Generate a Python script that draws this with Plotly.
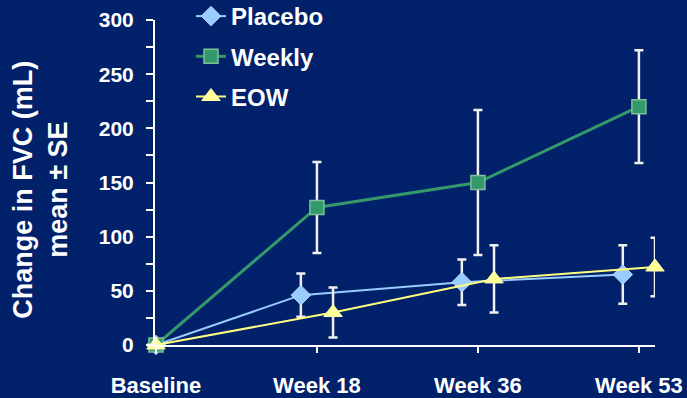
import plotly.graph_objects as go

# Visit labels and change in FVC (mL), mean and standard error per arm
visits = ["Baseline", "Week 18", "Week 36", "Week 53"]

placebo_mean = [0, 46, 58, 65]
placebo_se = [0, 20, 21, 27]

weekly_mean = [0, 127, 150, 220]
weekly_se = [0, 42, 67, 52]

eow_mean = [0, 30, 61, 72]
eow_se = [0, 23, 31, 27]

BG = "#02216B"
FONT = "Liberation Sans, Arial, sans-serif"
ERR = dict(type="data", visible=True, color="#F0F0F0", thickness=2.5, width=4.5)


def positions(shift):
    # Side-by-side placement of the arms at each follow-up visit; baseline shared
    return [i + (shift if i > 0 else 0) for i in range(len(visits))]


fig = go.Figure()

fig.add_trace(go.Scatter(
    x=positions(-0.1), y=placebo_mean, name="Placebo", legendgroup="p",
    mode="lines+markers",
    line=dict(color="#99CCFF", width=2),
    marker=dict(symbol="diamond", size=15, color="#99CCFF",
                line=dict(color="#B8DCFF", width=1)),
    error_y=dict(array=placebo_se, **ERR),
    cliponaxis=False,
))
fig.add_trace(go.Scatter(
    x=positions(0.0), y=weekly_mean, name="Weekly", legendgroup="w",
    mode="lines+markers",
    line=dict(color="#33996A", width=3),
    marker=dict(symbol="square", size=14, color="#33996A",
                line=dict(color="#7FBF9A", width=1.5)),
    error_y=dict(array=weekly_se, **ERR),
    cliponaxis=False,
))
fig.add_trace(go.Scatter(
    x=positions(0.1), y=eow_mean, name="EOW", legendgroup="e",
    mode="lines+markers",
    line=dict(color="#FFFF80", width=2),
    marker=dict(symbol="triangle-up", size=16, color="#FFFF99",
                line=dict(color="#FFFFB0", width=1)),
    error_y=dict(array=eow_se, **ERR),
    cliponaxis=False,
))

fig.add_annotation(
    text="Change in FVC (mL)<br>mean ± SE",
    xref="paper", yref="paper", x=-0.228, y=0.478,
    xanchor="center", yanchor="middle", textangle=-90, showarrow=False,
    font=dict(family=FONT, size=27, color="white", weight="bold"),
)

fig.update_layout(
    width=687, height=398,
    margin=dict(l=155, r=32, t=20, b=53, autoexpand=False),
    paper_bgcolor=BG, plot_bgcolor=BG,
    font=dict(family=FONT, color="white"),
    showlegend=True,
    legend=dict(
        x=0.072, y=1.08, xanchor="left", yanchor="top",
        bgcolor="rgba(0,0,0,0)", tracegroupgap=6,
        font=dict(family=FONT, size=24, color="white", weight="bold"),
    ),
    xaxis=dict(
        range=[-0.006, 3.1], showgrid=False, zeroline=False, automargin=False,
        showline=True, linecolor="white", linewidth=2,
        tickmode="array", tickvals=list(range(len(visits))), ticktext=visits,
        ticks="outside", ticklen=6, tickwidth=2, tickcolor="white",
        ticklabelstandoff=14,
        tickfont=dict(family=FONT, size=22, color="white", weight="bold"),
    ),
    yaxis=dict(
        range=[0, 300], showgrid=False, zeroline=False, automargin=False,
        showline=True, linecolor="white", linewidth=2,
        dtick=50, tick0=0,
        ticks="outside", ticklen=7, tickwidth=2, tickcolor="white",
        ticklabelstandoff=8,
        minor=dict(dtick=25, ticks="outside", ticklen=7, tickwidth=2,
                   tickcolor="white"),
        tickfont=dict(family=FONT, size=21, color="white", weight="bold"),
    ),
)

fig.write_html("out.html")
